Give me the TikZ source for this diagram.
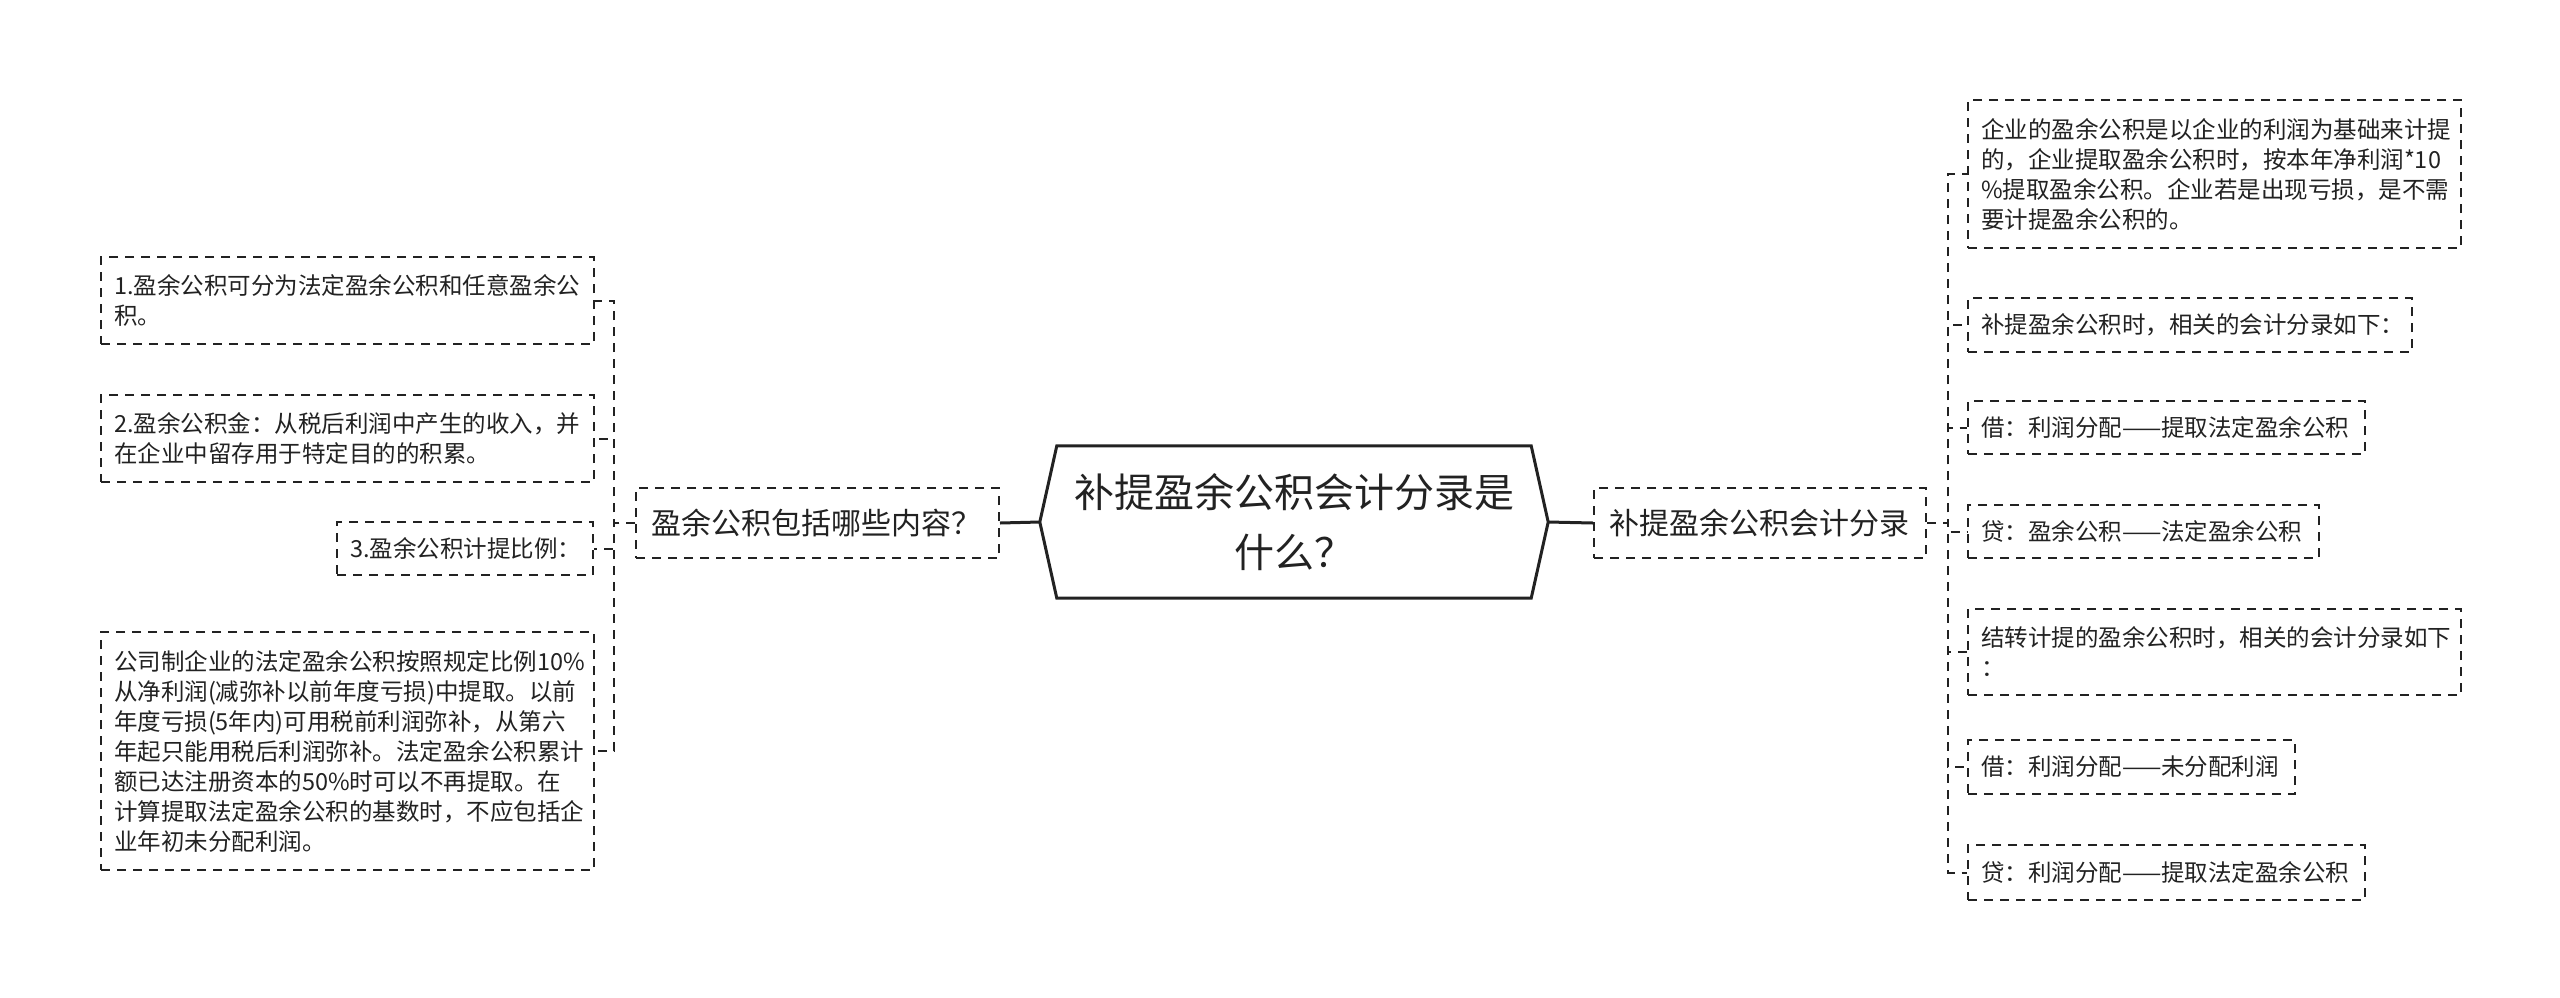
\documentclass[tikz,border=0pt]{standalone}
\usepackage{fontspec}
\setmainfont{Noto Sans CJK SC}
\definecolor{ink}{HTML}{222222}
\begin{document}
\begin{tikzpicture}[x=1pt,y=-1pt,
  leaf/.style={draw=ink, line width=2pt, dash pattern=on 9pt off 7pt, anchor=north west,
    inner xsep=13pt, inner ysep=0pt, align=left, text=ink,
    font=\fontsize{23.5}{30}\selectfont},
  branch/.style={draw=ink, line width=2pt, dash pattern=on 9pt off 7pt, anchor=north west,
    inner xsep=15pt, inner ysep=0pt, align=left, text=ink,
    font=\fontsize{30}{36}\selectfont},
  conn/.style={draw=ink, line width=2pt, dash pattern=on 9pt off 7pt},
  solidconn/.style={draw=ink, line width=3pt}]
\useasboundingbox (0,0) rectangle (2560,997);
\fill[white] (0,0) rectangle (2560,997);

% central node
\node[minimum width=474pt, minimum height=152pt, inner sep=0pt, align=center, text=ink,
  font=\fontsize{40}{60}\selectfont] (c) at (1294,522) {补提盈余公积会计分录是\\什么？};
\coordinate (cl) at ([xshift=-17pt]c.west);
\coordinate (cr) at ([xshift=17pt]c.east);
\draw[line width=3pt, draw=ink, line join=miter] (c.north west) -- (cl) -- (c.south west) -- (c.south east) -- (cr) -- (c.north east) -- cycle;

% branch nodes
\node[branch, text width=333pt, minimum height=70pt] (ln) at (635,487) {\mbox{盈余公积包括哪些内容？}};
\node[branch, text width=302pt, minimum height=70pt] (rn) at (1593,487) {\mbox{补提盈余公积会计分录}};

\draw[solidconn] (cl) -- (ln.east);
\draw[solidconn] (cr) -- (rn.west);

% left leaves
\node[leaf, text width=467pt, minimum height=87pt] (l1) at (100,256) {1.盈余公积可分为法定盈余公积和任意盈余公\\积。};
\node[leaf, text width=467pt, minimum height=87pt] (l2) at (100,394) {2.盈余公积金：从税后利润中产生的收入，并\\在企业中留存用于特定目的的积累。};
\node[leaf, text width=230pt, minimum height=53pt] (l3) at (336,521) {\mbox{3.盈余公积计提比例：}};
\node[leaf, text width=467pt, minimum height=238pt] (l4) at (100,631) {公司制企业的法定盈余公积按照规定比例10\%\\从净利润(减弥补以前年度亏损)中提取。以前\\年度亏损(5年内)可用税前利润弥补，从第六\\年起只能用税后利润弥补。法定盈余公积累计\\额已达注册资本的50\%时可以不再提取。在\\计算提取法定盈余公积的基数时，不应包括企\\业年初未分配利润。};

% right leaves
\node[leaf, text width=467pt, minimum height=148pt] (r1) at (1967,99) {企业的盈余公积是以企业的利润为基础来计提\\的，企业提取盈余公积时，按本年净利润*10\\\%提取盈余公积。企业若是出现亏损，是不需\\要计提盈余公积的。};
\node[leaf, text width=418pt, minimum height=54pt] (r2) at (1967,297) {\mbox{补提盈余公积时，相关的会计分录如下：}};
\node[leaf, text width=371pt, minimum height=53pt] (r3) at (1967,400) {\mbox{借：利润分配——提取法定盈余公积}};
\node[leaf, text width=325pt, minimum height=53pt] (r4) at (1967,504) {\mbox{贷：盈余公积——法定盈余公积}};
\node[leaf, text width=467pt, minimum height=86pt] (r5) at (1967,608) {结转计提的盈余公积时，相关的会计分录如下\\：};
\node[leaf, text width=301pt, minimum height=54pt] (r6) at (1967,739) {\mbox{借：利润分配——未分配利润}};
\node[leaf, text width=371pt, minimum height=55pt] (r7) at (1967,844) {\mbox{贷：利润分配——提取法定盈余公积}};

% left connectors
\foreach \n in {l1,l2,l3,l4}
  \draw[conn] (ln.west) -- ++(-21,0) |- (\n.east);
% right connectors
\foreach \n in {r1,r2,r3,r4,r5,r6,r7}
  \draw[conn] (rn.east) -- ++(21,0) |- (\n.west);
\end{tikzpicture}
\end{document}
